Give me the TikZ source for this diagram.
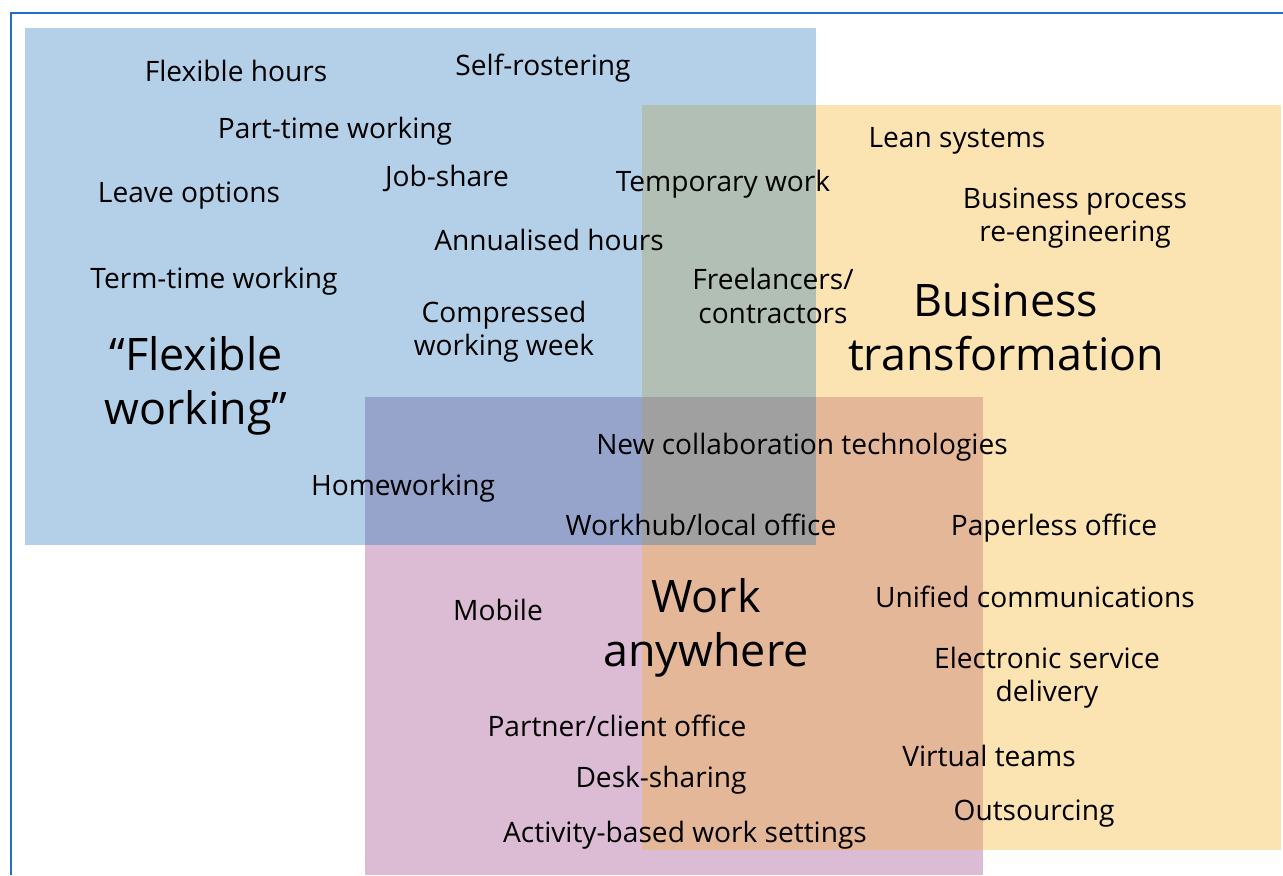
\documentclass[tikz,border=0pt]{standalone}
\usepackage{fontspec}
\setmainfont{Open Sans}
\definecolor{flexBlue}{RGB}{180,208,232}
\definecolor{bizOrange}{RGB}{252,227,178}
\definecolor{anyPurple}{RGB}{220,188,212}
\definecolor{blueOrange}{RGB}{177,191,180}
\definecolor{bluePurple}{RGB}{150,164,204}
\definecolor{orangePurple}{RGB}{228,183,152}
\definecolor{allGrey}{RGB}{160,160,160}
\definecolor{frameBlue}{RGB}{30,112,196}

\begin{document}
\begin{tikzpicture}[x=0.02cm,y=-0.02cm,
    lbl/.style={inner sep=0pt,align=center,yshift=-1.7pt,font=\fontsize{16}{19}\selectfont},
    big/.style={inner sep=0pt,align=center,font=\fontsize{25.5}{30.6}\selectfont}
  ]
  \useasboundingbox (0,0) rectangle (1283,875);
  % the three areas
  \fill[flexBlue] (25,28) rectangle (816,545);
  \fill[bizOrange] (642,105) rectangle (1281,850);
  \fill[anyPurple] (365,397) rectangle (983,875);
  % where they overlap
  \fill[blueOrange] (642,105) rectangle (816,545);
  \fill[bluePurple] (365,397) rectangle (816,545);
  \fill[orangePurple] (642,397) rectangle (983,850);
  \fill[allGrey] (642,397) rectangle (816,545);
  % frame
  \draw[frameBlue,line width=1.2pt] (11,875) |- (1283,13);

  % flexible working
  \node[big] (flex) at (196,386) {“Flexible\\working”};
  \node[lbl] (hours) at (236,68) {Flexible hours};
  \node[lbl] (roster) at (543,65) {Self-rostering};
  \node[lbl] (parttime) at (335,128) {Part-time working};
  \node[lbl] (leave) at (189,193) {Leave options};
  \node[lbl] (jobshare) at (447,175) {Job-share};
  \node[lbl] (annual) at (549,237) {Annualised hours};
  \node[lbl] (termtime) at (214,278) {Term-time working};
  \node[lbl] (compressed) at (504,329) {Compressed\\working week};
  \node[lbl] (temp) at (723,181) {Temporary work};
  \node[lbl] (freelance) at (773,293) {Freelancers/\\contractors};
  \node[lbl] (home) at (403,485) {Homeworking};

  % business transformation
  \node[big] (biz) at (1006,327) {Business\\transformation};
  \node[lbl] (lean) at (957,138) {Lean systems};
  \node[lbl] (bpr) at (1075,215) {Business process\\re-engineering};
  \node[lbl] (collab) at (802,444) {New collaboration technologies};
  \node[lbl] (paperless) at (1054,525) {Paperless office};
  \node[lbl] (unified) at (1035,594) {Unified communications};
  \node[lbl] (esd) at (1047,675) {Electronic service\\delivery};
  \node[lbl] (virtual) at (989,753) {Virtual teams};
  \node[lbl] (outsrc) at (1034,811) {Outsourcing};

  % work anywhere
  \node[big] (anywhere) at (706,628) {Work\\anywhere};
  \node[lbl] (workhub) at (701,522) {Workhub/local office};
  \node[lbl] (mobile) at (498,607) {Mobile};
  \node[lbl] (partner) at (617,723) {Partner/client office};
  \node[lbl] (desk) at (661,777) {Desk-sharing};
  \node[lbl] (activity) at (685,832) {Activity-based work settings};
\end{tikzpicture}
\end{document}
